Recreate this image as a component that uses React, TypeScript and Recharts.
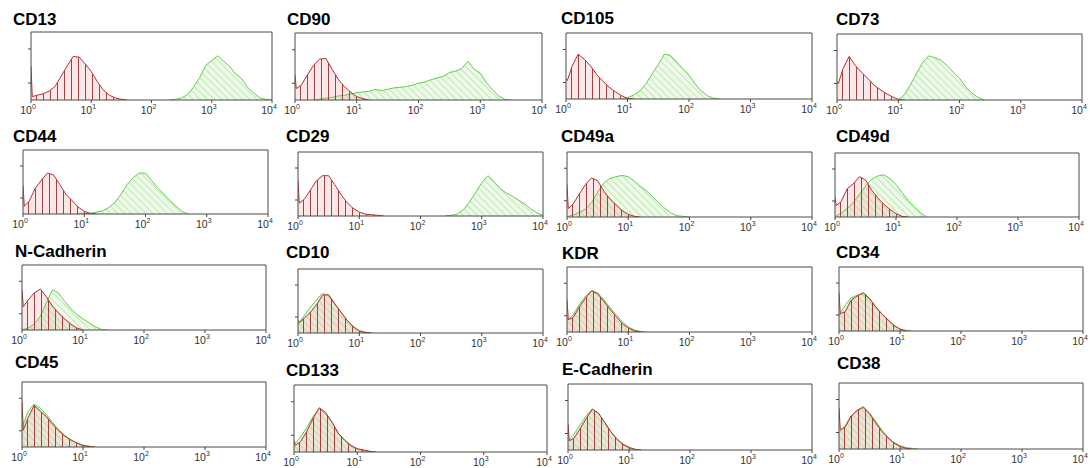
import React from 'react';
import { ComposedChart, Area, XAxis, YAxis, ReferenceArea } from 'recharts';

// fluorescence intensity bins (first channel, then 1/10 decade steps)
const BINS = [1, 1.05, 1.26, 1.58, 2, 2.51, 3.16, 3.98, 5.01, 6.31, 7.94,
  10, 12.6, 15.8, 20, 25.1, 31.6, 39.8, 50.1, 63.1, 79.4,
  100, 126, 158, 200, 251, 316, 398, 501, 631, 794,
  1000, 1259, 1585, 1995, 2512, 3162, 3981, 5012, 6310, 7943, 10000];

const MARKERS = ['CD13', 'CD90', 'CD105', 'CD73', 'CD44', 'CD29', 'CD49a', 'CD49d',
  'N-Cadherin', 'CD10', 'KDR', 'CD34', 'CD45', 'CD133', 'E-Cadherin', 'CD38'];

const X_TICKS = [1, 10, 100, 1000, 10000];
const X_TICK_EXP = ['0', '1', '2', '3', '4'];
const Y_TICKS = [25, 50, 75];

// isotype control (red), starting at bin 0
const ISO_CD13 = [50, 5, 7, 9, 13, 20, 35, 50, 64, 63, 53, 42, 27, 15, 7, 3, 1, 0];
const ISO_CD90 = [38, 17, 22, 37, 52, 61, 62, 46, 31, 20, 12, 5, 2, 0];
const ISO_CD105 = [30, 28, 50, 68, 60, 50, 37, 27, 18, 11, 5, 1, 0];
const ISO_CD73 = [28, 25, 48, 66, 52, 42, 33, 23, 16, 10, 5, 1, 0];
const ISO_CD44 = [45, 12, 20, 40, 53, 64, 61, 46, 31, 21, 11, 4, 1, 0];
const ISO_CD29 = [55, 20, 26, 40, 55, 63, 63, 49, 34, 21, 12, 6, 3, 2, 1, 0];
const ISO_CD49A = [50, 13, 20, 35, 50, 60, 56, 40, 28, 19, 10, 4, 1, 0];
const ISO_CD49D = [30, 18, 24, 44, 52, 63, 58, 42, 30, 20, 12, 5, 1, 0];
const ISO_NCAD = [62, 36, 46, 57, 63, 51, 37, 26, 17, 9, 3, 0];
const ISO_CD10 = [20, 16, 23, 32, 44, 59, 60, 46, 33, 20, 10, 3, 1, 0];
const ISO_KDR = [50, 19, 22, 38, 52, 63, 59, 47, 35, 24, 13, 6, 2, 0];
const ISO_CD34 = [60, 27, 30, 48, 55, 60, 51, 38, 27, 18, 9, 3, 0];
const ISO_CD45 = [70, 26, 45, 64, 55, 47, 35, 25, 17, 11, 6, 2, 1, 0];
const ISO_CD133 = [17, 10, 15, 30, 50, 66, 59, 45, 28, 18, 10, 5, 3, 1, 0];
const ISO_ECAD = [40, 14, 18, 32, 48, 62, 56, 42, 28, 17, 9, 4, 1, 0];
const ISO_CD38 = [62, 29, 33, 50, 59, 64, 53, 40, 27, 17, 9, 4, 1, 0];

// antibody staining (green), starting at bin AB_START
const AB_CD13 = [0, 1, 3, 8, 19, 33, 51, 58, 65, 57, 49, 38, 31, 18, 10, 3, 1, 0];
const AB_CD90 = [0, 1, 3, 4, 6, 7, 9, 11, 12, 13, 16, 14, 16, 18, 19, 20, 22, 25, 27, 30, 33, 35, 41, 43, 47, 58, 46, 40, 26, 15, 6, 1, 0];
const AB_CD105 = [0, 2, 6, 12, 23, 38, 52, 68, 66, 56, 46, 36, 23, 12, 5, 1, 0];
const AB_CD73 = [0, 8, 23, 41, 57, 67, 64, 60, 52, 42, 33, 20, 11, 4, 0];
const AB_CD44 = [0, 1, 1, 3, 5, 10, 18, 31, 46, 57, 64, 64, 52, 41, 31, 21, 12, 4, 0];
const AB_CD29 = [0, 1, 3, 10, 22, 37, 52, 63, 54, 43, 36, 31, 25, 19, 11, 5, 1];
const AB_CD49A = [0, 1, 3, 7, 12, 22, 38, 52, 59, 62, 64, 62, 55, 47, 40, 31, 22, 13, 6, 2, 1, 0];
const AB_CD49D = [1, 2, 6, 13, 23, 35, 48, 59, 64, 66, 60, 51, 38, 26, 16, 7, 0];
const AB_NCAD = [0, 1, 3, 9, 21, 42, 62, 57, 44, 33, 24, 17, 11, 5, 1, 0];
const AB_CD10 = [15, 17, 27, 40, 52, 62, 58, 45, 32, 20, 10, 4, 1, 0];
const AB_KDR = [18, 20, 26, 42, 55, 64, 60, 50, 38, 27, 16, 8, 3, 1, 0];
const AB_CD34 = [25, 28, 40, 52, 56, 58, 50, 38, 27, 17, 8, 3, 1, 0];
const AB_CD45 = [30, 35, 55, 66, 60, 50, 38, 27, 18, 11, 6, 3, 1, 0];
const AB_CD133 = [12, 13, 22, 36, 53, 65, 57, 44, 28, 17, 9, 4, 2, 0];
const AB_ECAD = [14, 16, 24, 38, 52, 62, 55, 42, 28, 16, 8, 3, 1, 0];
const AB_CD38 = [25, 27, 35, 50, 58, 62, 55, 42, 29, 18, 10, 5, 2, 1, 0];

const AB_START = [24, 4, 10, 11, 10, 25, 0, 0, 0, 0, 0, 0, 0, 0, 0, 0];

const ISO = [ISO_CD13, ISO_CD90, ISO_CD105, ISO_CD73, ISO_CD44, ISO_CD29, ISO_CD49A, ISO_CD49D,
  ISO_NCAD, ISO_CD10, ISO_KDR, ISO_CD34, ISO_CD45, ISO_CD133, ISO_ECAD, ISO_CD38];
const AB = [AB_CD13, AB_CD90, AB_CD105, AB_CD73, AB_CD44, AB_CD29, AB_CD49A, AB_CD49D,
  AB_NCAD, AB_CD10, AB_KDR, AB_CD34, AB_CD45, AB_CD133, AB_ECAD, AB_CD38];

// layout: plot box left, top, right, bottom, title x, title baseline
const FRAMES = [
  [31, 32, 272, 100, 13, 25], [295, 33, 542, 100, 287, 25], [566, 33, 812, 99, 561, 24], [837, 34, 1082, 100, 836, 25],
  [23, 150, 268, 214, 13, 142], [298, 152, 543, 216, 286, 142], [567, 152, 812, 217, 561, 142], [835, 153, 1079, 217, 836, 142],
  [22, 265, 266, 330, 15, 257], [298, 269, 543, 333, 286, 258], [567, 267, 812, 332, 562, 259], [839, 267, 1083, 331, 836, 258],
  [22, 382, 266, 447, 15, 368], [294, 385, 547, 452, 286, 376], [568, 384, 812, 450, 562, 375], [839, 383, 1083, 449, 837, 369],
];

const FONT = '"Liberation Sans", Arial, Helvetica, sans-serif';
const ML = 16, MR = 10, MT = 4, XH = 17;

function rowsFor(i: number) {
  return BINS.map((x, k) => {
    const iso = k < ISO[i].length ? ISO[i][k] : null;
    const j = k - AB_START[i];
    const ab = j >= 0 && j < AB[i].length ? AB[i][j] : null;
    return { x, iso, ab };
  });
}

const XTick = (props: any) => {
  const { x, y, payload } = props;
  const idx = X_TICKS.indexOf(payload.value);
  return (
    <text x={x - 3} y={y} dy={8.5} textAnchor="middle" fontSize={10.5} fill="#333" fontFamily={FONT}>
      10<tspan fontSize={7} dy={-4.5}>{X_TICK_EXP[idx]}</tspan>
    </text>
  );
};

const EmptyTick = () => <g />;

function Panel({ i }: { i: number }) {
  const [L, T, R, B, tx, tb] = FRAMES[i];
  const w = R - L + ML + MR;
  const h = B - T + MT + XH;
  const data = rowsFor(i);
  return (
    <>
      <div style={{ position: 'absolute', left: tx, top: tb - 14.4, fontFamily: FONT, fontWeight: 700, fontSize: 17, lineHeight: '17px', color: '#000', whiteSpace: 'nowrap' }}>
        {MARKERS[i]}
      </div>
      <div style={{ position: 'absolute', left: L - ML, top: T - MT }}>
        <ComposedChart width={w} height={h} data={data} margin={{ top: MT, right: MR, bottom: 0, left: 0 }}>
          <defs>
            <pattern id={`ab-${i}`} patternUnits="userSpaceOnUse" width={5} height={5} patternTransform="rotate(-45)">
              <rect width={5} height={5} fill="#eef9ea" />
              <line x1={0} y1={0} x2={0} y2={5} stroke="#8fdb7d" strokeWidth={1} />
            </pattern>
            <pattern id={`iso-${i}`} patternUnits="userSpaceOnUse" width={7} height={7}>
              <rect width={7} height={7} fill="rgba(236,120,120,0.17)" />
              <line x1={0.5} y1={0} x2={0.5} y2={7} stroke="#93302c" strokeWidth={0.9} />
            </pattern>
          </defs>
          <XAxis dataKey="x" type="number" scale="log" domain={[1, 10000]} ticks={X_TICKS} allowDataOverflow
            height={XH} tickSize={3} tickMargin={2} axisLine={false} tickLine={{ stroke: '#444' }} tick={<XTick />} interval={0} />
          <YAxis type="number" domain={[0, 100]} ticks={Y_TICKS} width={ML} tickSize={3} axisLine={false}
            tickLine={{ stroke: '#444' }} tick={<EmptyTick />} allowDataOverflow />
          <Area type="linear" dataKey="ab" stroke="#5fcf4c" strokeWidth={1} fill={`url(#ab-${i})`} fillOpacity={1}
            dot={false} activeDot={false} isAnimationActive={false} connectNulls={false} />
          <Area type="linear" dataKey="iso" stroke="#b8302c" strokeWidth={1} fill={`url(#iso-${i})`} fillOpacity={1}
            dot={false} activeDot={false} isAnimationActive={false} connectNulls={false} />
          <ReferenceArea x1={1} x2={10000} y1={0} y2={100} fill="none" stroke="#4a4a4a" strokeWidth={1} ifOverflow="visible" />
        </ComposedChart>
      </div>
    </>
  );
}

export default function App() {
  return (
    <div style={{ position: 'absolute', left: 0, top: 0, width: 1090, height: 468, background: '#fff', overflow: 'hidden' }}>
      {MARKERS.map((_, i) => <Panel key={i} i={i} />)}
    </div>
  );
}
